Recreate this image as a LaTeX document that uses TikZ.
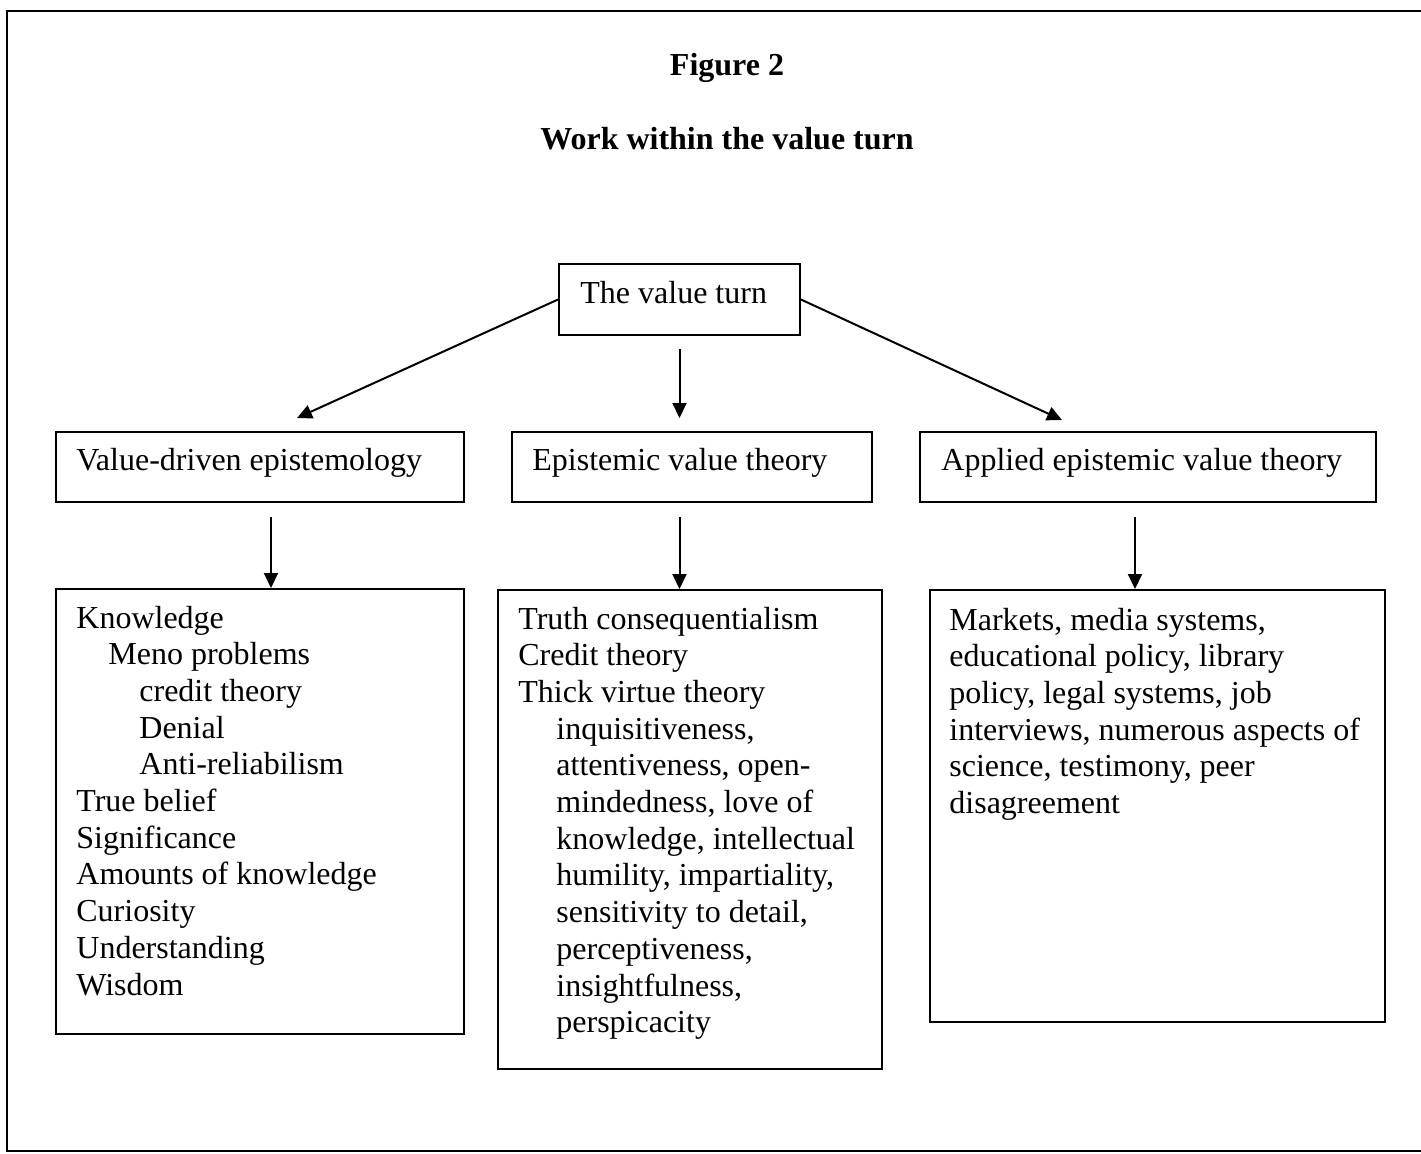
\documentclass[tikz,border=0pt]{standalone}
\usepackage{fontspec}
\setmainfont{Liberation Serif}
\usetikzlibrary{arrows.meta}

\begin{document}
\begin{tikzpicture}
[x=0.5pt, y=-0.5pt,
 box/.style={draw, line width=1pt, inner sep=0pt, anchor=north west},
 txt/.style={inner sep=0pt, anchor=base west, font=\fontsize{16}{18.35}\selectfont},
 ttl/.style={inner sep=0pt, anchor=base, font=\fontsize{16}{18.35}\selectfont\bfseries},
 arr/.style={line width=1pt, -{Triangle[length=7.5pt, width=7pt]}}]
\useasboundingbox (0,0) rectangle (1421,1153);
% frame
\draw [line width=1.1pt] (1421,11) -- (7,11) -- (7,1151) -- (1421,1151);
% titles
\node (fig) [ttl] at (727,75) {Figure 2};
\node (work) [ttl] at (727,149) {Work within the value turn};
% boxes
\node (vt) [box, minimum width=120.5pt, minimum height=35.5pt] at (558,263) {};
\node (vde) [box, minimum width=204pt, minimum height=35pt] at (55,431) {};
\node (evt) [box, minimum width=180pt, minimum height=35pt] at (511,431) {};
\node (aevt) [box, minimum width=228pt, minimum height=35pt] at (919,431) {};
\node (know) [box, minimum width=204pt, minimum height=222.5pt] at (55,588) {};
\node (etv) [box, minimum width=192pt, minimum height=239.5pt] at (497,589) {};
\node (apps) [box, minimum width=227.5pt, minimum height=216pt] at (929,589) {};
% texts
\node (vt-txt) [txt] at (580,303) {The value turn};
\node (vde-txt) [txt] at (76,470) {Value-driven epistemology};
\node (evt-txt) [txt] at (532,470) {Epistemic value theory};
\node (aevt-txt) [txt] at (941,470) {Applied epistemic value theory};
\node (know-txt) [txt] at (76,628) {\begin{tabular}[t]{@{}l@{}}
  Knowledge\\
  \hspace*{16pt}Meno problems\\
  \hspace*{31.5pt}credit theory\\
  \hspace*{31.5pt}Denial\\
  \hspace*{31.5pt}Anti-reliabilism\\
  True belief\\
  Significance\\
  Amounts of knowledge\\
  Curiosity\\
  Understanding\\
  Wisdom
\end{tabular}};
\node (etv-txt) [txt] at (518,629) {\begin{tabular}[t]{@{}l@{}}
  Truth consequentialism\\
  Credit theory\\
  Thick virtue theory\\
  \hspace*{19pt}inquisitiveness,\\
  \hspace*{19pt}attentiveness, open-\\
  \hspace*{19pt}mindedness, love of\\
  \hspace*{19pt}knowledge, intellectual\\
  \hspace*{19pt}humility, impartiality,\\
  \hspace*{19pt}sensitivity to detail,\\
  \hspace*{19pt}perceptiveness,\\
  \hspace*{19pt}insightfulness,\\
  \hspace*{19pt}perspicacity
\end{tabular}};
\node (apps-txt) [txt] at (949,630) {\begin{tabular}[t]{@{}l@{}}
  Markets, media systems,\\
  educational policy, library\\
  policy, legal systems, job\\
  interviews, numerous aspects of\\
  science, testimony, peer\\
  disagreement
\end{tabular}};
% arrows
\coordinate (tipL) at (297,418);
\coordinate (tipR) at (1062,420);
\draw [arr] (vt.west) -- (tipL);
\draw [arr] (vt.east) -- (tipR);
\draw [arr] ([yshift=-6.5pt]vt.south) -- ([yshift=6.5pt]vt.south |- evt.north);
\draw [arr] ([xshift=5.5pt, yshift=-7pt]vde.south) -- ([xshift=5.5pt]know.north);
\draw [arr] ([yshift=-7pt]evt.south -| vt.south) -- (etv.north -| vt.south);
\draw [arr] ([xshift=-6.5pt, yshift=-7pt]aevt.south) -- ([xshift=-11.25pt]apps.north);
\end{tikzpicture}
\end{document}
